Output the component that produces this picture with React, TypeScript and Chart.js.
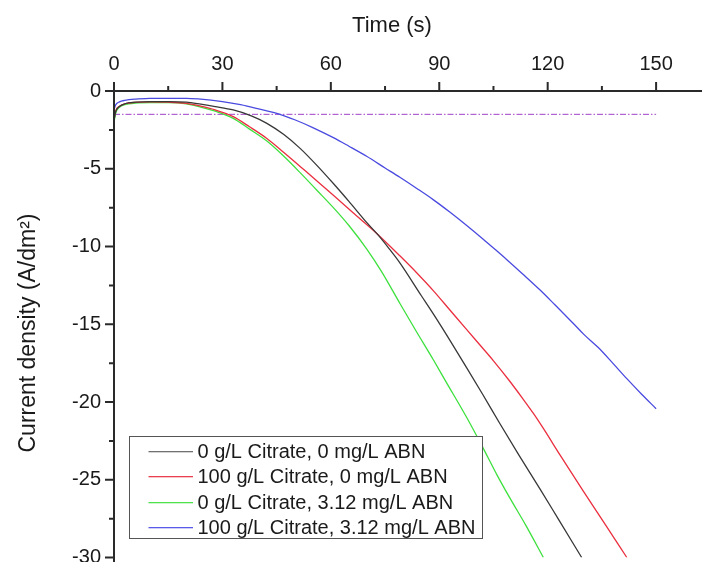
import React, { useEffect, useRef } from 'react';
import { Chart, registerables } from 'chart.js';

Chart.register(...registerables);

const FONT = '"Liberation Sans", Arial, Helvetica, sans-serif';

const xTitle = 'Time (s)';
const yTitle = 'Current density (A/dm²)';

const seriesLabels = [
  '0 g/L Citrate, 0 mg/L ABN',
  '100 g/L Citrate, 0 mg/L ABN',
  '0 g/L Citrate, 3.12 mg/L ABN',
  '100 g/L Citrate, 3.12 mg/L ABN',
];
const seriesColors = ['#383838', '#ea2f3f', '#3ee03e', '#4a4ae0'];
const legendLineColors = ['#707070', '#e8404e', '#50e050', '#5a5ae8'];

const timeBlack = [0, 0.5, 1.5, 3, 6, 10, 15, 20, 24, 28, 33, 38, 42.3, 47, 51.5, 56, 60.7, 65, 69.9, 72.7, 76, 79.1, 85, 88.4, 93, 97.6, 102, 106.8, 112, 117.9, 123, 129.4];
const valBlack = [-1.9, -1.3, -1.0, -0.82, -0.72, -0.68, -0.68, -0.72, -0.85, -1.0, -1.22, -1.6, -2.08, -2.8, -3.69, -4.75, -5.95, -7.1, -8.45, -9.16, -10.1, -11.05, -13.15, -14.35, -16.05, -17.8, -19.5, -21.4, -23.4, -25.6, -27.55, -30];

const timeRed = [0, 0.5, 1.5, 3, 6, 10, 15, 20, 24, 28, 33, 37.5, 42.3, 47, 51.5, 56, 60.7, 66, 72.7, 79.1, 84, 88.4, 93, 97.6, 101.5, 105, 109.3, 113, 116.1, 118.8, 123.4, 129.9, 136, 141.9];
const valRed = [-1.8, -1.25, -0.98, -0.82, -0.73, -0.7, -0.72, -0.8, -0.98, -1.22, -1.65, -2.3, -3.05, -3.95, -4.85, -5.75, -6.7, -7.8, -9.16, -10.6, -11.75, -12.85, -14.1, -15.35, -16.4, -17.35, -18.6, -19.75, -20.75, -21.7, -23.4, -25.75, -27.9, -30];

const timeGreen = [0, 0.5, 1.5, 3, 6, 10, 15, 20, 24, 28, 33, 37.5, 42.3, 47, 51.5, 56, 60.7, 65, 69.9, 74, 79.2, 83.5, 88.4, 92, 97.6, 102, 106, 109.6, 114, 118.8];
const valGreen = [-2.0, -1.4, -1.05, -0.88, -0.78, -0.75, -0.75, -0.82, -1.03, -1.3, -1.76, -2.45, -3.22, -4.2, -5.25, -6.35, -7.5, -8.65, -10.15, -11.6, -13.7, -15.4, -17.3, -18.75, -21.0, -22.9, -24.7, -26.2, -27.95, -30];

const timeBlue = [0, 0.5, 1.5, 3, 6, 10, 15, 20, 24, 30, 35, 40, 45.9, 50, 55, 60.7, 65, 69.9, 75, 79.1, 84, 88.4, 93, 97.6, 102, 105.5, 108.7, 113, 117.9, 122, 127.1, 130, 134, 138, 141.9, 146, 150];
const valBlue = [-1.2, -0.88, -0.7, -0.6, -0.52, -0.48, -0.47, -0.48, -0.52, -0.68, -0.88, -1.15, -1.5, -1.85, -2.35, -3.0, -3.55, -4.2, -4.95, -5.55, -6.3, -7.0, -7.8, -8.65, -9.5, -10.2, -10.85, -11.75, -12.8, -13.75, -14.95, -15.65, -16.5, -17.5, -18.5, -19.5, -20.43];

const refLineTimes = [0, 150];
const refLineValue = -1.5;

const xMajorTicks = [0, 30, 60, 90, 120, 150];
const xMinorTicks = [15, 45, 75, 105, 135];
const yMajorTicks = [0, -5, -10, -15, -20, -25, -30];
const yMinorTicks = [-2.5, -7.5, -12.5, -17.5, -22.5, -27.5];

const xMin = 0;
const xMax = 162.7;
const yMin = -30;
const yMax = 0;

const seriesTimes = [timeBlack, timeRed, timeGreen, timeBlue];
const seriesValues = [valBlack, valRed, valGreen, valBlue];

const axesPlugin = {
  id: 'customAxes',
  afterDatasetsDraw(chart: any) {
    const { ctx, scales } = chart;
    const xs = scales.x;
    const ys = scales.y;
    const y0 = ys.getPixelForValue(0);
    const x0 = xs.getPixelForValue(0);
    ctx.save();
    ctx.strokeStyle = '#2a2a2a';
    ctx.lineWidth = 2;
    ctx.beginPath();
    ctx.moveTo(x0, y0);
    ctx.lineTo(chart.width, y0);
    ctx.moveTo(x0, y0);
    ctx.lineTo(x0, chart.height);
    xMajorTicks.forEach((v) => {
      const p = xs.getPixelForValue(v);
      ctx.moveTo(p, y0);
      ctx.lineTo(p, y0 - 9);
    });
    xMinorTicks.forEach((v) => {
      const p = xs.getPixelForValue(v);
      ctx.moveTo(p, y0);
      ctx.lineTo(p, y0 - 5);
    });
    yMajorTicks.forEach((v) => {
      const p = ys.getPixelForValue(v);
      ctx.moveTo(x0, p);
      ctx.lineTo(x0 - 9, p);
    });
    yMinorTicks.forEach((v) => {
      const p = ys.getPixelForValue(v);
      ctx.moveTo(x0, p);
      ctx.lineTo(x0 - 5, p);
    });
    ctx.stroke();

    ctx.fillStyle = '#1a1a1a';
    ctx.textAlign = 'center';
    ctx.textBaseline = 'middle';
    ctx.font = `22px ${FONT}`;
    ctx.fillText(xTitle, 392, 26);
    ctx.save();
    ctx.translate(29, 333);
    ctx.rotate(-Math.PI / 2);
    ctx.font = `23px ${FONT}`;
    ctx.fillText(yTitle, 0, 0);
    ctx.restore();
    ctx.restore();
  },
};

const legendPlugin = {
  id: 'boxLegend',
  afterDraw(chart: any) {
    const { ctx, chartArea } = chart;
    ctx.save();
    ctx.font = `20px ${FONT}`;
    const left = Math.round(chartArea.left + 14.5);
    const top = Math.round(chartArea.bottom - 122);
    const rowH = 25.5;
    const lineX1 = left + 19.5;
    const lineX2 = left + 64;
    const textX = left + 68.5;
    let maxW = 0;
    seriesLabels.forEach((l) => {
      maxW = Math.max(maxW, ctx.measureText(l).width);
    });
    const width = Math.round(textX + maxW + 7 - left);
    const height = 102;
    ctx.fillStyle = '#ffffff';
    ctx.fillRect(left, top, width, height);
    ctx.strokeStyle = '#555555';
    ctx.lineWidth = 1;
    ctx.strokeRect(left + 0.5, top + 0.5, width, height);
    seriesLabels.forEach((label, i) => {
      const y = Math.round(top + 14.5 + i * rowH);
      ctx.fillStyle = legendLineColors[i];
      ctx.fillRect(lineX1, y, lineX2 - lineX1, 1.3);
      ctx.fillStyle = '#1a1a1a';
      ctx.textBaseline = 'middle';
      ctx.textAlign = 'left';
      ctx.fillText(label, textX, y + 1);
    });
    ctx.restore();
  },
};

export default function App() {
  const canvasRef = useRef<HTMLCanvasElement | null>(null);

  useEffect(() => {
    const canvas = canvasRef.current;
    if (!canvas) return;
    const datasets: any[] = seriesLabels.map((label, i) => ({
      label,
      data: seriesTimes[i].map((t, j) => ({ x: t, y: seriesValues[i][j] })),
      borderColor: seriesColors[i],
      backgroundColor: seriesColors[i],
      borderWidth: 1.3,
      pointRadius: 0,
      fill: false,
      cubicInterpolationMode: 'monotone',
    }));
    datasets.push({
      label: 'reference',
      data: refLineTimes.map((t) => ({ x: t, y: refLineValue })),
      borderColor: '#a040c8',
      borderWidth: 1,
      borderDash: [6, 2, 1.5, 2],
      pointRadius: 0,
      fill: false,
    });

    const chart = new Chart(canvas, {
      type: 'line',
      data: { datasets },
      plugins: [axesPlugin, legendPlugin],
      options: {
        animation: false,
        responsive: false,
        maintainAspectRatio: false,
        layout: { padding: { left: 0, right: 0, top: 0, bottom: 4.5 } },
        plugins: {
          legend: { display: false },
          tooltip: { enabled: false },
        },
        scales: {
          x: {
            type: 'linear',
            position: 'top',
            min: xMin,
            max: xMax,
            grid: { display: false, drawTicks: false },
            border: { display: false },
            ticks: {
              stepSize: 30,
              includeBounds: false,
              autoSkip: false,
              maxRotation: 0,
              padding: 15,
              color: '#1a1a1a',
              font: { size: 20, family: FONT },
              callback: (v: any) => (Number(v) % 30 === 0 ? String(v) : ''),
            },
            title: { display: false },
            afterFit: (s: any) => {
              s.height = 91;
              s.paddingLeft = 0;
              s.paddingRight = 0;
            },
          },
          y: {
            type: 'linear',
            position: 'left',
            min: yMin,
            max: yMax,
            grid: { display: false, drawTicks: false },
            border: { display: false },
            ticks: {
              stepSize: 5,
              padding: 13,
              color: '#1a1a1a',
              font: { size: 20, family: FONT },
            },
            title: { display: false },
            afterFit: (s: any) => {
              s.width = 114;
              s.paddingTop = 0;
              s.paddingBottom = 0;
            },
          },
        },
      } as any,
    });
    return () => chart.destroy();
  }, []);

  return (
    <div style={{ position: 'fixed', left: 0, top: 0, width: 702, height: 562, background: '#fff' }}>
      <canvas ref={canvasRef} width={702} height={562} style={{ display: 'block' }} />
    </div>
  );
}
